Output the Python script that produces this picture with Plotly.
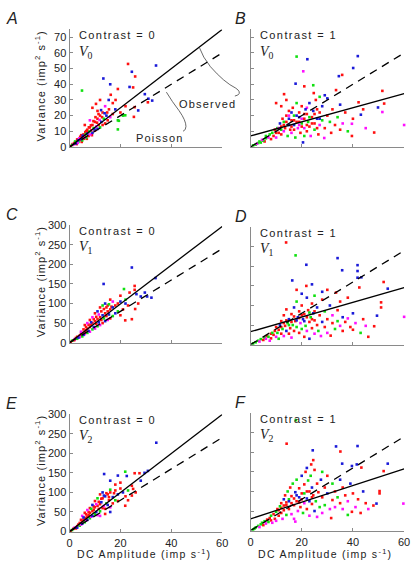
import plotly.graph_objects as go

# ---------------- DATA ----------------
COLORS = {"r": "#ff1010", "b": "#1a1ad8", "g": "#10e010", "m": "#ff10ff"}

# Panel A : Contrast = 0, V0  (x: DC amplitude, y: variance, colour)
A_pts = [
    (0.5,0.6,"r"),(1,1.2,"g"),(1.2,1.8,"r"),(1.5,1.4,"m"),(2,2.6,"r"),(2.2,3.5,"g"),(2.5,2.2,"b"),
    (3,3.8,"r"),(3,4.8,"r"),(3.5,3.2,"g"),(3.8,5.5,"m"),(4,4.5,"r"),(4.2,6.5,"r"),(4.5,5,"b"),
    (5,6.2,"r"),(5,4.2,"g"),(5.5,8,"r"),(5.8,6,"m"),(6,7.5,"r"),(6.2,9.5,"r"),(6.5,5.8,"g"),
    (7,8.5,"b"),(7,11,"r"),(7.5,7,"r"),(7.8,9.8,"g"),(8,12.5,"r"),(8.2,8,"m"),(8.5,10.5,"r"),
    (9,14,"r"),(9,9,"b"),(9.5,12,"g"),(10,10.5,"r"),(10,16,"r"),(10.5,13,"m"),(11,11.5,"b"),
    (11,18,"r"),(11.5,14,"r"),(12,12.5,"g"),(12,20,"r"),(12.5,16,"b"),(13,14,"r"),(13,22,"r"),
    (13.5,18,"g"),(14,15,"r"),(14.5,20,"b"),(15,17,"r"),(15.5,24,"r"),(16,19,"m"),(17,21,"r"),
    (18,24,"b"),(19,17,"g"),(20,22,"r"),(21,20,"g"),(22,26,"r"),(2.8,1.8,"r"),(4.8,3.2,"r"),
    (6.8,5.2,"r"),(8.8,7.5,"r"),(3.2,2.6,"m"),(5.2,7.2,"b"),(6.6,10.2,"r"),(9.4,16.5,"r"),
    (1.8,2.2,"r"),(3.4,4.2,"b"),(4.6,7.5,"r"),(5.6,5.2,"r"),(7.2,9.4,"r"),(8.4,13.8,"r"),
    (9.8,11.2,"b"),(10.8,15.5,"r"),(11.8,17.2,"m"),(12.8,19,"r"),(13.8,21.5,"b"),(14.8,22,"r"),
    (6.4,8.2,"g"),(7.6,12.5,"r"),(10.2,19,"r"),(11.4,21,"r"),(12.4,23.5,"b"),
    (23,53,"r"),(24.5,48,"b"),(25.8,45,"r"),(34,52,"b"),(13.3,43.7,"b"),(16,40,"b"),(4.9,36,"g"),
    (19,37,"r"),(23.6,38.3,"b"),(25,38,"r"),(29.6,33.7,"b"),(31,30.8,"b"),(32.5,29.6,"b"),
    (30.8,28.5,"r"),(27,23.3,"b"),(25.3,19.2,"r"),(19.4,16.7,"g"),(19,11.2,"g"),(16.2,33.3,"r"),
    (18.1,30,"r"),(15.4,30,"b"),(10.4,27.5,"r"),(11,23,"r"),(25.6,25.4,"r"),(21.9,20.2,"g"),
    (9,25,"r"),(12,30,"r"),(14,26,"m"),(6,14,"r"),(8,17,"m"),(17,28,"r"),
]

# Panel B : Contrast = 1, V0
B_pts = [
    (1,1,"g"),(2,1.5,"g"),(3,2.5,"g"),(3.5,3.5,"g"),(4,2.8,"g"),(5,4,"g"),(6,5.5,"g"),(2.5,2,"m"),
    (4.5,4.5,"m"),(5.5,3.5,"r"),(6,7,"g"),(7,6,"m"),(7.5,8,"g"),(8,5,"r"),(8.5,9,"g"),(9,7,"r"),
    (9.5,11,"r"),(10,6,"m"),(10.5,12,"g"),(11,9,"r"),(11.5,15,"b"),(12,8,"r"),(12,13,"r"),
    (12.5,18,"r"),(13,10,"m"),(13,16,"g"),(13.5,12,"r"),(14,20,"r"),(14.5,7,"g"),(15,14,"b"),
    (15,23,"r"),(15.5,11,"r"),(16,17,"r"),(16,9,"m"),(16.5,25,"r"),(17,14,"b"),(17,20,"g"),
    (17.5,6,"g"),(18,16,"r"),(18,28,"g"),(18.5,12,"m"),(19,19,"b"),(19,22,"r"),(19.5,9,"r"),
    (20,15,"g"),(20,26,"r"),(20.5,2.9,"b"),(21,18,"r"),(21,12,"m"),(21.5,24,"b"),(22,10,"r"),
    (22,21,"r"),(22.5,16,"g"),(23,28,"b"),(23,13,"r"),(23.5,7,"m"),(24,19,"r"),(24.5,23,"b"),
    (25,15,"r"),(25,11,"g"),(25.5,30,"r"),(26,18,"b"),(26.5,8,"r"),(27,22,"r"),(27,14,"m"),
    (28,17,"g"),(28,26,"b"),(28.8,5.7,"m"),(29,12,"r"),(30,20,"r"),(30,31,"b"),(31,16,"g"),
    (31.5,9,"r"),(32,24,"r"),(33,14,"r"),(33.4,36.3,"r"),(34,19,"g"),(35,11,"r"),(35,27,"b"),
    (36,15,"m"),(37,22,"r"),(38,10,"g"),(39.6,14.8,"m"),(39.6,7,"r"),(40,18,"r"),(42.2,28.5,"r"),
    (43.1,20.6,"b"),(44,24,"r"),(45,12,"m"),(48.3,9.2,"r"),(49.8,25.2,"b"),(51.5,35.8,"r"),
    (52.2,27.7,"r"),(51.5,22.3,"m"),(60,14,"m"),(18,57.7,"g"),(22.2,56,"b"),(41.9,58,"b"),
    (40.1,50.4,"b"),(20.6,48.3,"m"),(34.5,45.2,"b"),(35.8,46,"r"),(17.6,40.4,"b"),(21,38.7,"r"),
    (24.5,39.4,"g"),(13.1,33.7,"r"),(24.7,34.4,"r"),(29,33,"b"),(27,32,"g"),(10,28,"r"),
    (12,26,"r"),(14,30,"r"),(15,20,"m"),(17,11,"r"),(19,14,"m"),(21,7,"g"),(26,24,"r"),
    (14,16,"r"),(15,18,"b"),(16,13,"r"),(17,17,"r"),(18,20,"b"),(19,16,"r"),(20,18,"m"),
    (21,21,"r"),(22,14,"r"),(23,19,"g"),(24,15,"r"),(25,21,"r"),(26,12,"r"),(27,18,"b"),
    (12,11,"g"),(13,14,"r"),(11,12,"m"),(10,9,"r"),(16,22,"b"),(20,13,"r"),(22,25,"m"),
]

# Panel C : Contrast = 0, V1
C_pts = [
    (0.5,2,"r"),(1,5,"g"),(1.5,6,"r"),(2,9,"m"),(2,7,"r"),(2.5,12,"r"),(3,10,"g"),(3,15,"r"),
    (3.5,13,"b"),(4,18,"r"),(4,14,"m"),(4.5,22,"r"),(5,16,"g"),(5,25,"r"),(5.5,20,"b"),(6,28,"r"),
    (6,22,"m"),(6.5,32,"r"),(7,25,"g"),(7,36,"r"),(7.5,30,"b"),(8,40,"r"),(8,28,"m"),(8.5,45,"r"),
    (9,34,"g"),(9,50,"r"),(9.5,40,"b"),(10,55,"r"),(10,36,"m"),(10.5,48,"r"),(11,60,"r"),
    (11,42,"g"),(11.5,52,"b"),(12,65,"r"),(12,45,"m"),(12.5,58,"r"),(13,70,"b"),(13,50,"r"),
    (13.5,62,"g"),(14,75,"r"),(14,55,"b"),(14.5,68,"r"),(15,80,"r"),(15,58,"m"),(15.5,72,"b"),
    (16,85,"r"),(16,62,"r"),(17,90,"b"),(17,68,"g"),(18,95,"r"),(18,75,"b"),(19,100,"r"),
    (19,80,"g"),(20,105,"b"),(21,85,"r"),(22,110,"g"),(23,95,"r"),(8,58,"r"),(9,65,"m"),
    (10,75,"r"),(11,80,"b"),(12,90,"r"),(13,95,"g"),(14,100,"b"),(7,50,"m"),(6,45,"r"),
    (24.5,192,"b"),(33.8,165,"b"),(13.4,150,"b"),(25.6,145,"r"),(25.6,135,"r"),(23.6,128,"r"),
    (21.4,137,"g"),(26.3,124,"b"),(29.6,128,"b"),(32.2,115,"b"),(25.8,86,"r"),(24.5,60,"r"),
    (21.9,57,"r"),(28,118,"b"),(30.5,118,"b"),(20,120,"r"),(16,110,"r"),(22,100,"b"),
    (27,100,"r"),(20,70,"r"),(15,95,"r"),(17,105,"m"),
    (4.5,28,"m"),(5.5,34,"r"),(6.5,40,"r"),(7.5,46,"r"),(8.5,52,"b"),(9.5,60,"r"),(10.5,66,"r"),
    (11.5,72,"m"),(12.5,80,"r"),(13.5,86,"r"),(14.5,90,"r"),(15.5,98,"g"),(16.5,92,"r"),
]

# Panel D : Contrast = 1, V1
D_pts = [
    (1,3,"g"),(2,6,"g"),(3,10,"g"),(3.5,8,"m"),(4,14,"g"),(5,12,"r"),(5.5,18,"g"),(6,15,"m"),
    (6.5,22,"r"),(7,20,"g"),(7.5,10,"m"),(8,28,"r"),(8,16,"r"),(8.5,30,"g"),(9,25,"r"),(9.5,35,"r"),
    (10,20,"m"),(10,45,"r"),(10.5,30,"g"),(11,38,"r"),(11,15,"g"),(11.5,50,"b"),(12,28,"r"),
    (12,60,"r"),(12.5,40,"g"),(13,75,"r"),(13,22,"m"),(13.5,48,"r"),(14,35,"b"),(14,90,"r"),
    (14.5,55,"g"),(15,28,"r"),(15,65,"b"),(15.5,42,"r"),(16,78,"r"),(16,18,"m"),(16.5,50,"g"),
    (17,95,"b"),(17,35,"r"),(17.5,60,"r"),(18,45,"g"),(18,110,"g"),(18.5,70,"b"),(19,30,"r"),
    (19,85,"r"),(19.5,55,"m"),(20,40,"g"),(20,100,"r"),(20.5,65,"b"),(21,20,"r"),(21,78,"r"),
    (21.5,48,"g"),(22,120,"b"),(22,35,"m"),(22.5,88,"r"),(23,58,"r"),(23,15,"b"),(23.5,70,"g"),
    (24,42,"r"),(24,105,"r"),(24.5,80,"b"),(25,28,"m"),(25,62,"r"),(26,95,"b"),(26,50,"r"),
    (26.5,35,"g"),(27,75,"r"),(27.5,22,"m"),(28,58,"b"),(28,115,"r"),(29,45,"r"),(29,85,"g"),
    (30,65,"r"),(30,30,"m"),(31,100,"b"),(31.3,23,"r"),(32,55,"r"),(32,75,"m"),(33,40,"g"),
    (33.4,133,"r"),(34,88,"r"),(34,60,"g"),(35,48,"m"),(35,110,"r"),(36,70,"b"),(36,35,"r"),
    (37,58,"r"),(38,67,"m"),(38,120,"r"),(39,45,"r"),(40,38,"r"),(40,80,"b"),(41,55,"m"),
    (42.5,146,"r"),(43,30,"g"),(44,65,"r"),(45,48,"m"),(46,20,"r"),
    (13.9,261,"r"),(17.6,228,"g"),(34,221,"b"),(21.8,204,"b"),(41.8,203,"b"),(35.8,190,"b"),
    (41.8,188,"b"),(41.8,171,"b"),(43.3,172,"b"),(52,160,"r"),(53.6,143,"b"),(16.3,164,"b"),
    (21.8,150,"r"),(24,154,"b"),(51,108,"r"),(51,95,"r"),(49.4,74,"b"),(60,71,"m"),(48.3,47,"r"),
    (18,140,"r"),(20,130,"b"),(25,125,"g"),(30,140,"r"),(28,135,"b"),
    (12,45,"r"),(13,55,"r"),(14,62,"r"),(15,50,"g"),(16,58,"r"),(17,72,"r"),(18,62,"b"),
    (19,68,"r"),(20,75,"r"),(21,60,"b"),(22,70,"r"),(23,82,"g"),(24,65,"r"),(25,85,"r"),
]

# Panel E : Contrast = 0, V2
E_pts = [
    (0.5,2,"r"),(1,4,"g"),(1.5,7,"r"),(2,10,"m"),(2.5,8,"r"),(3,14,"r"),(3,10,"b"),(3.5,18,"r"),
    (4,15,"g"),(4,22,"r"),(4.5,18,"m"),(5,26,"r"),(5,20,"b"),(5.5,30,"r"),(6,24,"g"),(6,35,"r"),
    (6.5,28,"m"),(7,38,"r"),(7,30,"b"),(7.5,42,"r"),(8,34,"g"),(8,48,"r"),(8.5,38,"m"),(9,52,"r"),
    (9,40,"b"),(9.5,56,"r"),(10,45,"g"),(10,62,"r"),(10.5,50,"b"),(11,66,"r"),(11,42,"m"),
    (11.5,58,"r"),(12,70,"r"),(12,52,"g"),(12.5,75,"b"),(13,60,"r"),(13,85,"r"),(13.5,65,"m"),
    (14,90,"b"),(14,58,"r"),(14.5,72,"g"),(15,95,"r"),(15,68,"b"),(15.5,80,"r"),(16,100,"r"),
    (16,62,"m"),(17,88,"b"),(17,72,"r"),(18,105,"r"),(18,80,"g"),(19,95,"b"),(19,78,"r"),
    (20,110,"r"),(21,100,"b"),(22,90,"r"),(23,105,"g"),(7,55,"m"),(8,60,"r"),(9,68,"b"),
    (10,78,"r"),(11,85,"g"),(12,95,"r"),(13,100,"b"),(6,48,"r"),(5,40,"m"),(14,45,"r"),
    (16,50,"b"),(12,40,"m"),
    (34.1,227,"b"),(13.6,147,"b"),(21.9,153,"g"),(25.6,149,"r"),(27.5,149,"r"),(29.5,150,"b"),
    (30.8,155,"b"),(19,143,"b"),(22.5,142,"b"),(16,130,"b"),(24.5,117,"r"),(25,109,"r"),
    (24.5,92,"r"),(21.9,66,"r"),(16,107,"g"),(20,125,"r"),(18,120,"r"),(26,100,"r"),(23,80,"r"),
    (28,130,"b"),
    (4.5,30,"r"),(5.5,36,"b"),(6.5,44,"r"),(7.5,50,"r"),(8.5,58,"g"),(9.5,64,"r"),(10.5,70,"m"),
    (11.5,76,"r"),(12.5,84,"r"),(13.5,92,"b"),(14.5,98,"r"),(15.5,88,"r"),(17.5,98,"r"),
]

# Panel F : Contrast = 1, V2
F_pts = [
    (1,3,"g"),(1.5,5,"g"),(2,8,"g"),(3,12,"g"),(3.5,9,"m"),(4,16,"g"),(4.5,20,"g"),(5,14,"r"),
    (5.5,24,"g"),(6,18,"m"),(6.5,28,"r"),(7,22,"g"),(7.5,32,"r"),(8,26,"r"),(8,38,"g"),(8.5,20,"m"),
    (9,42,"r"),(9.5,30,"r"),(10,48,"g"),(10,25,"m"),(10.5,55,"r"),(11,38,"r"),(11.5,62,"g"),
    (12,45,"r"),(12,70,"r"),(12.5,30,"m"),(13,80,"b"),(13,52,"r"),(13.5,90,"r"),(14,40,"g"),
    (14,65,"r"),(14.5,100,"g"),(15,55,"r"),(15,75,"b"),(15.5,110,"r"),(16,42,"m"),(16,88,"r"),
    (16.5,120,"g"),(17,65,"r"),(17,30,"m"),(17.5,98,"b"),(18,130,"g"),(18,75,"r"),(18.5,50,"m"),
    (19,108,"r"),(19,85,"b"),(19.5,60,"r"),(20,140,"b"),(20,95,"r"),(20.5,45,"g"),(21,118,"r"),
    (21,70,"m"),(21.5,150,"r"),(22,82,"b"),(22,55,"r"),(22.5,128,"g"),(23,100,"r"),(23,38,"m"),
    (23.5,140,"g"),(24,68,"r"),(24,110,"b"),(24.5,90,"r"),(25,50,"b"),(25,155,"r"),(25.5,75,"g"),
    (26,120,"r"),(26,35,"m"),(26.5,98,"r"),(27,60,"g"),(27.5,130,"b"),(28,85,"r"),(28,45,"m"),
    (29,110,"r"),(29,65,"g"),(30,95,"b"),(30,140,"r"),(31,55,"m"),(31.5,32,"r"),(32,120,"g"),
    (32,78,"r"),(33,100,"r"),(33,60,"m"),(34,85,"g"),(35,130,"b"),(35,70,"r"),(36,55,"m"),
    (36,110,"r"),(37,90,"r"),(38,75,"m"),(38,40,"g"),(39,120,"b"),(39.6,48,"r"),(40,95,"r"),
    (41,60,"m"),(42,80,"r"),(43,45,"r"),(44,100,"b"),(45,70,"r"),(46,55,"m"),
    (17.7,282,"g"),(14.1,222,"r"),(24.3,205,"b"),(33.4,215,"b"),(41.8,216,"b"),(35.1,202,"r"),
    (35.8,171,"b"),(39.6,165,"b"),(41.5,169,"b"),(53.6,171,"b"),(52,152,"r"),(43.3,161,"r"),
    (23.7,169,"r"),(24.5,180,"r"),(50.4,101,"r"),(50.4,95,"r"),(49.2,69,"b"),(59.7,69,"m"),
    (48,64,"r"),(17.5,23,"m"),(22,160,"b"),(28,150,"g"),
    (11,52,"r"),(12,58,"r"),(13,64,"r"),(14,72,"r"),(15,80,"g"),(16,70,"r"),(17,82,"r"),
    (18,90,"b"),(19,72,"r"),(20,80,"r"),(21,95,"g"),(22,100,"r"),(23,75,"b"),(24,85,"r"),
]

# Regression lines: observed fit (solid) intercept/slope, Poisson prediction (dashed) slope
obs_intercept = {"A": 0, "B": 7, "C": 0, "D": 33, "E": 0, "F": 30}
obs_slope = {"A": 1.25, "B": 0.45, "C": 4.95, "D": 1.88, "E": 4.98, "F": 2.13}
poisson_slope = {"A": 1, "B": 1, "C": 4, "D": 4, "E": 4, "F": 4}
line_x = [0, 60]

contrast_labels = {"A": "Contrast = 0", "B": "Contrast = 1", "C": "Contrast = 0",
                   "D": "Contrast = 1", "E": "Contrast = 0", "F": "Contrast = 1"}
area_labels = {"A": "0", "B": "0", "C": "1", "D": "1", "E": "2", "F": "2"}
x_ticks = [0, 20, 40, 60]
y_ticks_v0 = [0, 10, 20, 30, 40, 50, 60, 70]
y_ticks_v12 = [0, 50, 100, 150, 200, 250, 300]

# ---------------- LAYOUT HELPERS ----------------
W, H = 416, 564
def px(x): return x / W
def py(y): return 1 - y / H

panels = {
    # name: (left px, right px, top px, bottom px, ymax, yticks, show y labels, show x labels)
    "A": (68, 224, 24, 144, 75, y_ticks_v0, True, False),
    "B": (253, 410, 24, 144, 75, y_ticks_v0, False, False),
    "C": (68, 224, 224, 344, 300, y_ticks_v12, True, False),
    "D": (253, 410, 226, 346, 300, y_ticks_v12, False, False),
    "E": (68, 224, 417, 537, 300, y_ticks_v12, True, True),
    "F": (253, 410, 416, 536, 300, y_ticks_v12, False, True),
}
pts = {"A": A_pts, "B": B_pts, "C": C_pts, "D": D_pts, "E": E_pts, "F": F_pts}

fig = go.Figure()
layout = {}
annotations = []
AXC = "#8a8a8a"
TXT = "#222222"
SANS = "Liberation Sans, Arial, sans-serif"

def spaced(t, sp=1.2):
    return f'<span style="letter-spacing:{sp}px">{t}</span>'

for i, name in enumerate("ABCDEF"):
    l, r, t, b, ymax, yt, ylab, xlab = panels[name]
    idx = "" if i == 0 else str(i + 1)
    xa, ya = "x" + idx, "y" + idx
    layout["xaxis" + idx] = dict(
        domain=[px(l), px(r)], range=[0, 60], anchor=ya, tickvals=x_ticks,
        showticklabels=xlab, ticks="inside", ticklen=3, tickcolor=AXC,
        showline=True, linecolor=AXC, linewidth=1, showgrid=False, zeroline=False,
        ticklabelstandoff=1,
        tickfont=dict(family=SANS, size=11, color=TXT),
    )
    layout["yaxis" + idx] = dict(
        domain=[py(b), py(t)], range=[0, ymax], anchor=xa, tickvals=yt,
        showticklabels=ylab, ticks="inside", ticklen=3, tickcolor=AXC,
        showline=True, linecolor=AXC, linewidth=1, showgrid=False, zeroline=False,
        tickfont=dict(family=SANS, size=11, color=TXT),
    )
    for c in ["r", "g", "m", "b"]:
        xs = [p[0] for p in pts[name] if p[2] == c]
        ys = [p[1] for p in pts[name] if p[2] == c]
        fig.add_trace(go.Scatter(
            x=xs, y=ys, mode="markers", xaxis=xa, yaxis=ya, cliponaxis=False,
            marker=dict(symbol="square", size=2.6, color=COLORS[c], line=dict(width=0)),
            showlegend=False, hoverinfo="skip"))
    fig.add_trace(go.Scatter(
        x=line_x, y=[poisson_slope[name] * v for v in line_x], mode="lines",
        xaxis=xa, yaxis=ya, line=dict(color="black", width=1.3, dash="8px,6px"),
        showlegend=False, hoverinfo="skip"))
    fig.add_trace(go.Scatter(
        x=line_x, y=[obs_intercept[name] + obs_slope[name] * v for v in line_x], mode="lines",
        xaxis=xa, yaxis=ya, line=dict(color="black", width=1.3),
        showlegend=False, hoverinfo="skip"))

    annotations.append(dict(x=px(l + 8), y=py(t + 6), xref="paper", yref="paper",
                            text=spaced(contrast_labels[name], 1.4), showarrow=False,
                            xanchor="left", yanchor="middle",
                            font=dict(family=SANS, size=11, color=TXT)))
    annotations.append(dict(x=px(l + 8), y=py(t + 23), xref="paper", yref="paper",
                            text="<i>V</i><sub>" + area_labels[name] + "</sub>",
                            showarrow=False, xanchor="left", yanchor="middle",
                            font=dict(family="Liberation Serif, Times New Roman", size=14,
                                      color=TXT)))
    annotations.append(dict(x=px(1 if l < 100 else 235), y=py(t - 11), xref="paper",
                            yref="paper", text="<i>" + name + "</i>", showarrow=False,
                            xanchor="left", yanchor="middle",
                            font=dict(family=SANS, size=16, color=TXT)))
    if ylab:
        annotations.append(dict(x=px(38), y=py((t + b) / 2 - 2), xref="paper", yref="paper",
                                text=spaced("Variance (imp<sup>2</sup> s<sup>-1</sup>)", 1.1),
                                textangle=-90, showarrow=False, xanchor="center",
                                yanchor="middle", font=dict(family=SANS, size=11, color=TXT)))
    if xlab:
        annotations.append(dict(x=px((l + r) / 2 - 2), y=py(559.5), xref="paper", yref="paper",
                                text=spaced("DC Amplitude (imp s<sup>-1</sup>)", 1.3),
                                showarrow=False, xanchor="center", yanchor="middle",
                                font=dict(family=SANS, size=10.5, color=TXT)))

annotations.append(dict(x=px(209), y=py(92), xref="paper", yref="paper",
                        text=spaced("Observed", 1.2), showarrow=False,
                        font=dict(family=SANS, size=11, color=TXT)))
annotations.append(dict(x=px(160), y=py(127), xref="paper", yref="paper",
                        text=spaced("Poisson", 1.2), showarrow=False,
                        font=dict(family=SANS, size=11, color=TXT)))

def pth(cmds):
    out = []
    for op, *coords in cmds:
        pairs = [f"{px(coords[k]):.5f},{py(coords[k+1]):.5f}" for k in range(0, len(coords), 2)]
        out.append(op + " " + " ".join(pairs))
    return " ".join(out)

obs_leader = pth([("M", 201, 43), ("Q", 204, 52, 212, 62), ("Q", 226, 78, 238, 84),
                  ("Q", 244, 88, 240, 91), ("L", 237, 92)])
poi_leader = pth([("M", 167, 88), ("Q", 173, 98, 180, 107), ("Q", 187, 117, 187, 123),
                  ("Q", 187, 127, 184, 128)])
shapes = [
    dict(type="path", xref="paper", yref="paper", path=obs_leader,
         line=dict(color="#444", width=0.8)),
    dict(type="path", xref="paper", yref="paper", path=poi_leader,
         line=dict(color="#444", width=0.8)),
]

fig.update_layout(**layout)
fig.update_layout(
    width=W, height=H, margin=dict(l=0, r=0, t=0, b=0),
    paper_bgcolor="white", plot_bgcolor="white",
    annotations=annotations, shapes=shapes, showlegend=False,
)
fig.write_html("out.html", config={"displayModeBar": False},
               post_script="document.body.style.margin='0';document.body.style.overflow='hidden';")
